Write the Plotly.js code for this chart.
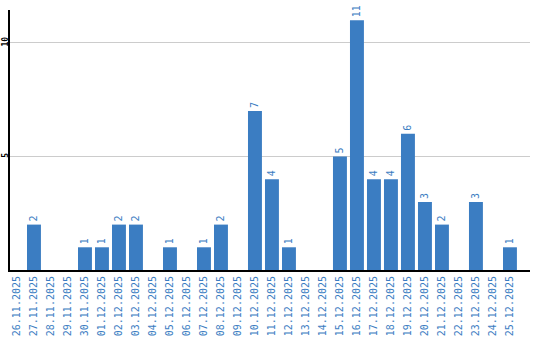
<!DOCTYPE html>
<html><head><meta charset="utf-8">
<script src="https://cdn.plot.ly/plotly-3.0.1.min.js"></script>
<style>html,body{margin:0;padding:0;background:#fff}#c{width:540px;height:340px}</style>
</head><body><div id="c"></div>
<script>
const dates = ["26.11.2025","27.11.2025","28.11.2025","29.11.2025","30.11.2025","01.12.2025","02.12.2025","03.12.2025","04.12.2025","05.12.2025","06.12.2025","07.12.2025","08.12.2025","09.12.2025","10.12.2025","11.12.2025","12.12.2025","13.12.2025","14.12.2025","15.12.2025","16.12.2025","17.12.2025","18.12.2025","19.12.2025","20.12.2025","21.12.2025","22.12.2025","23.12.2025","24.12.2025","25.12.2025"];
const counts = [0,2,0,0,1,1,2,2,0,1,0,1,2,0,7,4,1,0,0,5,11,4,4,6,3,2,0,3,0,1];
const yTicks = [5,10];

const barColor = '#3b7dc2';
const labels = counts.map(v => v > 0 ? String(v) : '');

Plotly.newPlot('c', [{
  type: 'bar',
  x: dates,
  y: counts,
  text: labels,
  textposition: 'outside',
  textangle: -90,
  cliponaxis: false,
  constraintext: 'none',
  textfont: {family: 'DejaVu Sans Mono', size: 10, color: barColor},
  marker: {color: barColor},
  hoverinfo: 'none'
}], {
  width: 540, height: 340,
  margin: {l: 10, r: 10, t: 10, b: 70, pad: 0},
  paper_bgcolor: '#fff', plot_bgcolor: '#fff',
  bargap: 0.18,
  showlegend: false,
  xaxis: {
    type: 'category',
    range: [-0.41, 30.18],
    showline: true, linecolor: '#000', linewidth: 2,
    showgrid: false, zeroline: false,
    ticks: '', tickangle: -90,
    tickfont: {family: 'DejaVu Sans Mono', size: 10, color: barColor},
    automargin: false
  },
  yaxis: {
    range: [0, 11.45],
    tickvals: yTicks, ticktext: yTicks.map(String),
    showline: true, linecolor: '#000', linewidth: 2,
    showgrid: true, gridcolor: '#cccccc', gridwidth: 1,
    zeroline: false,
    ticks: '', tickangle: -90,
    ticklabelstandoff: -3,
    tickfont: {family: 'DejaVu Sans Mono', size: 8, color: '#000', weight: 'bold'},
    automargin: false
  }
}, {displayModeBar: false, staticPlot: true});
</script></body></html>
